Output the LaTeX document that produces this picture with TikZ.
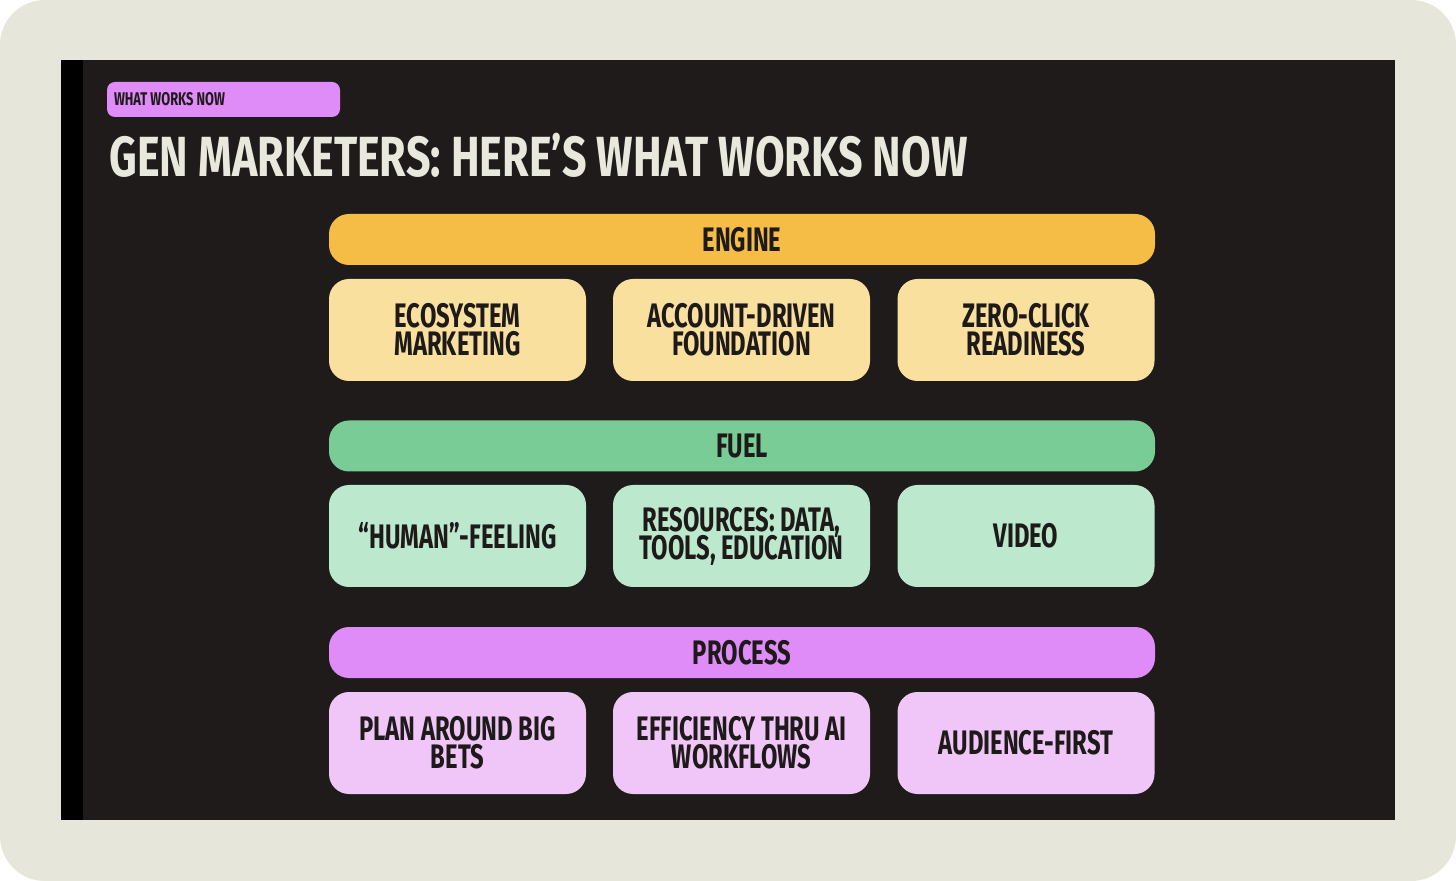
\documentclass[tikz,border=0pt]{standalone}
\usepackage{fontspec}
\setmainfont{Fira Sans}[FakeStretch=0.70,UprightFont=* SemiBold,BoldFont=* Bold]
\newfontfamily\headfam{Fira Sans}[FakeStretch=0.76,UprightFont=* Bold]
\usetikzlibrary{positioning}

\definecolor{frame}{HTML}{E6E6DA}
\definecolor{panel}{HTML}{1F1B1A}
\definecolor{ink}{HTML}{1E1A19}
\definecolor{titlecol}{HTML}{E8E8DC}
\definecolor{enginecol}{HTML}{F5BD45}
\definecolor{enginelt}{HTML}{F9E09E}
\definecolor{fuelcol}{HTML}{79CC95}
\definecolor{fuellt}{HTML}{BCE8CE}
\definecolor{processcol}{HTML}{DF8BF8}
\definecolor{processlt}{HTML}{F0C6F8}

\newcommand\cardfont{\bfseries\fontsize{17}{14}\selectfont\lineskiplimit=-10pt}
\newcommand\tagfont{\bfseries\fontsize{9.2}{10}\selectfont}
\newcommand\titlefont{\headfam\fontsize{28.3}{30}\selectfont}

\begin{document}
\begin{tikzpicture}[x=0.5pt,y=-0.5pt,
  bar/.style={rounded corners=10pt, minimum width=413pt, minimum height=25.5pt,
    inner sep=0pt, font=\cardfont, text=ink},
  card/.style={rounded corners=10pt, minimum width=128.5pt, minimum height=51pt,
    inner sep=0pt, align=center, font=\cardfont, text=ink}]
\fill [white] (0,0) rectangle (1456,881);
\fill [frame, rounded corners=22.5pt] (0,0) rectangle (1456,881);
\fill [panel] (61,60) rectangle (1395,820);
\fill [black] (61,60) rectangle (83,820);

% heading
\node [fill=processcol, rounded corners=4pt, minimum width=116.5pt, minimum height=17.5pt,
  inner xsep=3.5pt, inner ysep=0pt, font=\tagfont, text=ink]
  (tag) at (223.5,99.5) {\makebox[109.5pt][l]{WHAT WORKS NOW}};
\node [anchor=base west, inner sep=0pt, font=\titlefont, text=titlecol]
  (title) at (109,177) {GEN MARKETERS: HERE’S WHAT WORKS NOW};

% engine
\node [bar, fill=enginecol] (engine) at (742,239.5) {ENGINE};
\node [card, fill=enginelt] (eco) at (457.5,330) {ECOSYSTEM\\MARKETING};
\node [card, fill=enginelt] (acct) at (741.5,330) {ACCOUNT-DRIVEN\\FOUNDATION};
\node [card, fill=enginelt] (zero) at (1026,330) {ZERO-CLICK\\READINESS};

% fuel
\node [bar, fill=fuelcol] (fuel) at (742,446) {FUEL};
\node [card, fill=fuellt] (human) at (457.5,536) {“HUMAN”-FEELING};
\node [card, fill=fuellt] (res) at (741.5,536) {RESOURCES: DATA,\\TOOLS, EDUCATION};
\node [card, fill=fuellt] (video) at (1026,536) {VIDEO};

% process
\node [bar, fill=processcol] (process) at (742,652.5) {PROCESS};
\node [card, fill=processlt] (bets) at (457.5,743) {PLAN AROUND BIG\\BETS};
\node [card, fill=processlt] (eff) at (741.5,743) {EFFICIENCY THRU AI\\WORKFLOWS};
\node [card, fill=processlt] (aud) at (1026,743) {AUDIENCE-FIRST};
\end{tikzpicture}
\end{document}
